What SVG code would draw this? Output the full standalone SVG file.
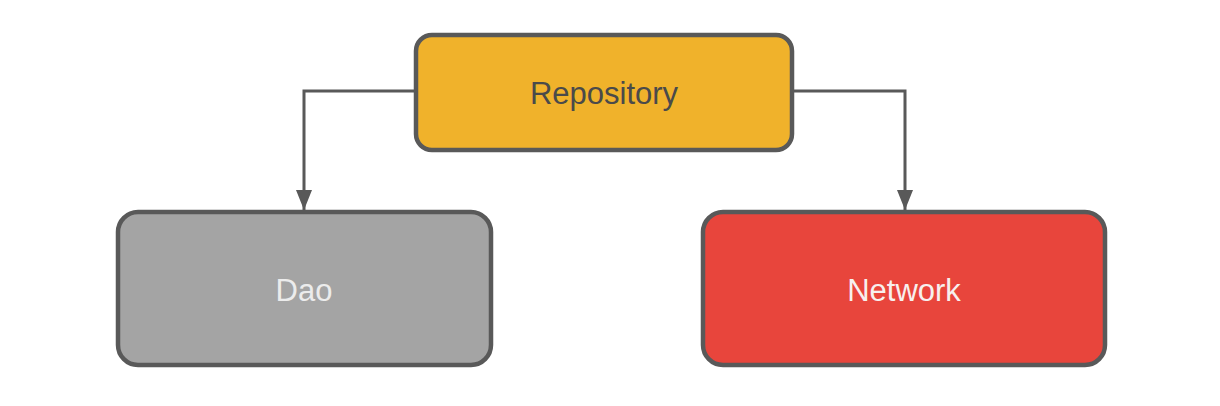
<svg xmlns="http://www.w3.org/2000/svg" width="1220" height="406" viewBox="0 0 1220 406">
<style>
.box{stroke:#595959;stroke-width:4.5}
.lbl{font-family:"Liberation Sans",Arial,sans-serif;font-size:31px;text-anchor:middle}
.edge{fill:none;stroke:#595959;stroke-width:3}
</style>
<defs>
<marker id="ah" viewBox="0 0 20 16" refX="20" refY="8" markerWidth="20" markerHeight="16" orient="auto" markerUnits="userSpaceOnUse">
<path d="M0,0 L20,8 L0,16 z" fill="#595959"/>
</marker>
</defs>
<rect width="1220" height="406" fill="#ffffff"/>
<g id="connectors">
<path class="edge" d="M416,91 H304 V210" marker-end="url(#ah)"/>
<path class="edge" d="M792,91 H905 V210" marker-end="url(#ah)"/>
</g>
<g id="repository">
<rect class="box" x="416" y="35" width="376" height="115" rx="16" fill="#f0b22b"/>
<text class="lbl" x="604" y="104" fill="#4a4a4a">Repository</text>
</g>
<g id="dao">
<rect class="box" x="118" y="212" width="373" height="153" rx="20" fill="#a4a4a4"/>
<text class="lbl" x="304" y="301" fill="#ececec">Dao</text>
</g>
<g id="network">
<rect class="box" x="703" y="212" width="402" height="153" rx="20" fill="#e8453c"/>
<text class="lbl" x="904" y="301" fill="#f7f0ee">Network</text>
</g>
</svg>
